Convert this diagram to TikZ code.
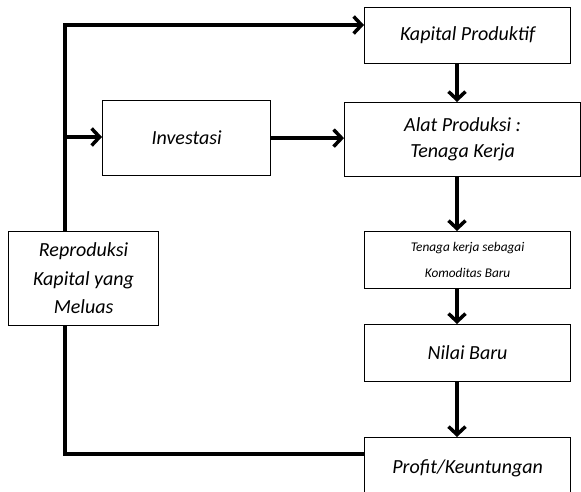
\documentclass[tikz,border=0pt]{standalone}
\usepackage{fontspec}
\setmainfont{Carlito}
\usetikzlibrary{arrows.meta}
\begin{document}
\begin{tikzpicture}[x=1pt,y=-1pt,
  box/.style={draw,line width=1.2pt,anchor=north west,align=center,inner sep=0pt,
    font=\itshape\fontsize{20}{26}\selectfont},
  link/.style={line width=4pt},
  arr/.style={line width=4pt,-{Straight Barb[length=8pt,width=17pt,line width=3.5pt]}}]
\useasboundingbox (0,0) rectangle (581,492);
\clip (0,0) rectangle (581,492);
\node[box,minimum width=206pt,minimum height=56pt] (kap) at (364,7) {Kapital Produktif};
\node[box,minimum width=236pt,minimum height=74pt] (alat) at (344,102) {Alat Produksi :\\Tenaga Kerja};
\node[box,minimum width=168pt,minimum height=75pt] (inv) at (102,100) {Investasi};
\node[box,minimum width=150pt,minimum height=94pt,font=\itshape\fontsize{20}{28.5}\selectfont] (rep) at (8,231) {Reproduksi\\Kapital yang\\Meluas};
\node[box,minimum width=206pt,minimum height=57pt,font=\itshape\fontsize{13.3}{26}\selectfont] (ten) at (364,231) {Tenaga kerja sebagai\\Komoditas Baru};
\node[box,minimum width=206pt,minimum height=57pt] (nil) at (364,324) {Nilai Baru};
\node[box,minimum width=206pt,minimum height=62pt] (pro) at (364,437) {Profit/Keuntungan};
\coordinate (vx) at (457,0);
\coordinate (tl) at (65,25);
\coordinate (br) at (65,137);
\coordinate (bl) at (65,454);
\draw[arr] (kap.south -| vx) -- (alat.north -| vx);
\draw[arr] (alat.south -| vx) -- (ten.north -| vx);
\draw[arr] (ten.south -| vx) -- (nil.north -| vx);
\draw[arr] (nil.south -| vx) -- (pro.north -| vx);
\draw[link] (rep.north -| tl) -- (tl);
\draw[arr] ([xshift=-2pt]tl) -- (kap.west |- tl);
\draw[arr] (br) -- (inv.west |- br);
\draw[arr] (inv.east) -- (alat.west |- inv.east);
\draw[link,line join=miter] (rep.south -| bl) -- (bl) -- (pro.west |- bl);
\end{tikzpicture}
\end{document}
